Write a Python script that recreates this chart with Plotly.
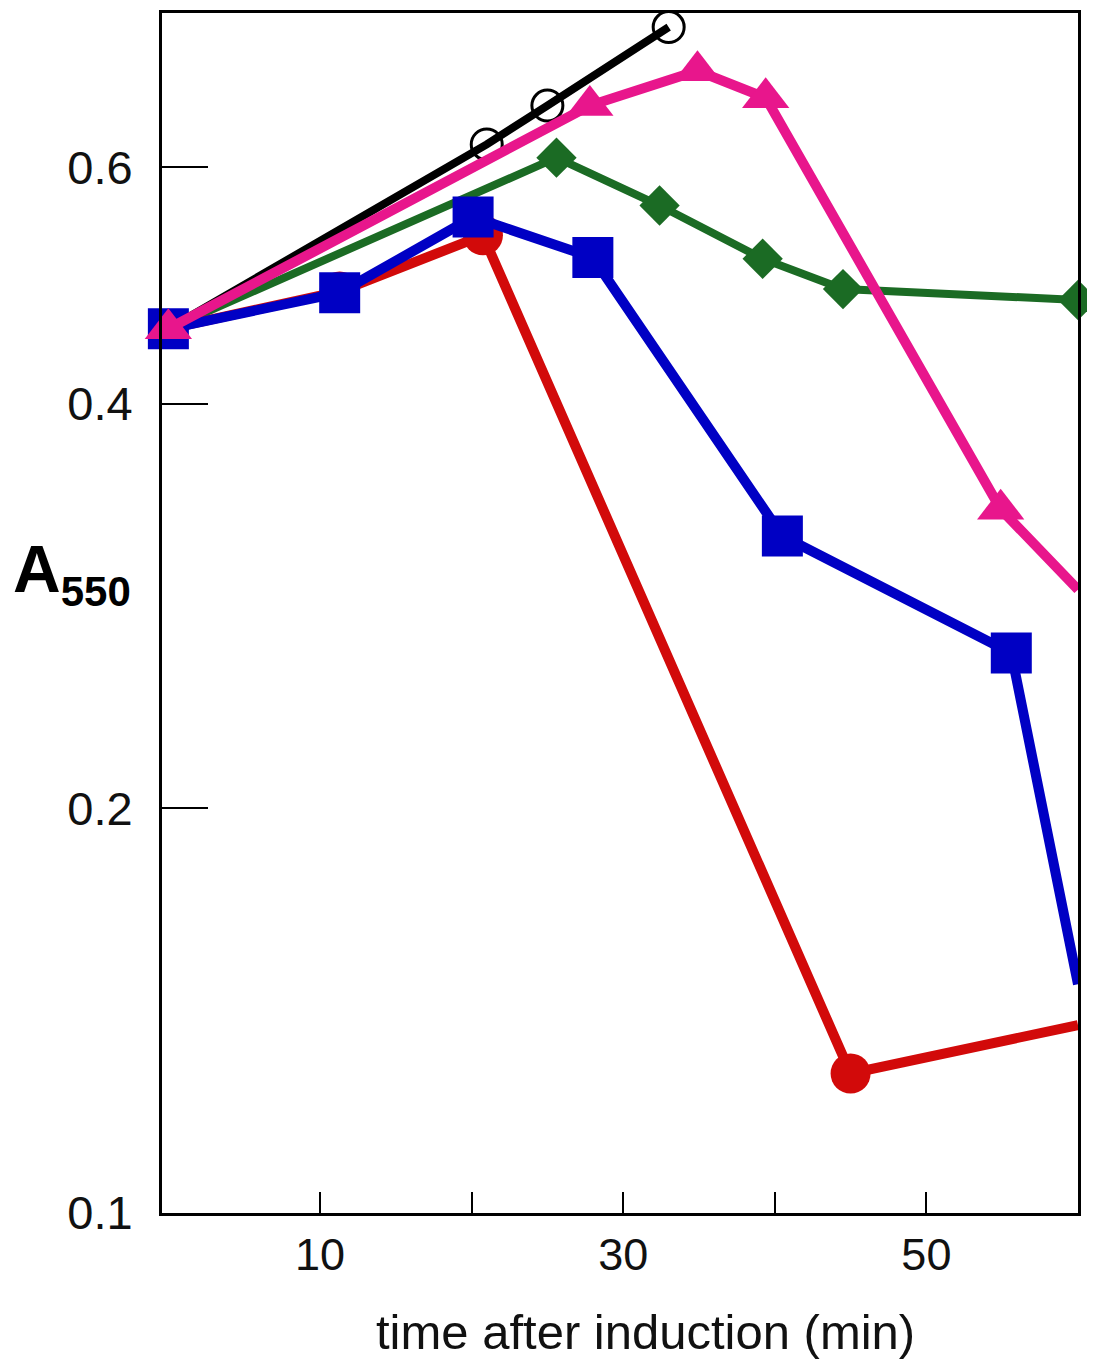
import plotly.graph_objects as go

# ---- data ----
black_x = [0, 21, 25, 33]
black_y = [0.455, 0.624, 0.667, 0.763]

pink_x = [0, 27.8, 34.9, 39.4, 54.9, 60]
pink_y = [0.455, 0.667, 0.708, 0.676, 0.334, 0.291]

green_x = [0, 25.6, 32.4, 39.2, 44.5, 60]
green_y = [0.455, 0.610, 0.562, 0.513, 0.487, 0.478]

blue_x = [0, 11.3, 20.1, 28.0, 40.5, 55.6, 60]
blue_y = [0.455, 0.484, 0.551, 0.514, 0.319, 0.261, 0.148]

red_x = [0, 11.3, 20.75, 45.0, 60]
red_y = [0.455, 0.485, 0.534, 0.127, 0.138]

x_label_vals = [10, 30, 50]
x_label_text = ["10", "30", "50"]
x_minor_vals = [20, 40]
y_tickvals = [0.1, 0.2, 0.4, 0.6]
y_ticktext = ["0.1", "0.2", "0.4", "0.6"]

FONT = "Liberation Sans, Arial, Helvetica, sans-serif"

def sizes(n, s, hide_last=False):
    arr = [s] * n
    if hide_last:
        arr[-1] = 0
    return arr

fig = go.Figure()

fig.add_trace(go.Scatter(
    x=green_x, y=green_y, mode="lines+markers",
    line=dict(color="#1b6b24", width=8),
    marker=dict(symbol="diamond", size=31, color="#1b6b24", opacity=1,
                line=dict(width=0)),
    cliponaxis=False, showlegend=False))

fig.add_trace(go.Scatter(
    x=black_x, y=black_y, mode="lines+markers",
    line=dict(color="black", width=8),
    marker=dict(symbol="circle-open", size=31, color="black", opacity=1,
                line=dict(width=3)),
    cliponaxis=False, showlegend=False))

fig.add_trace(go.Scatter(
    x=red_x, y=red_y, mode="lines+markers",
    line=dict(color="#d20a0a", width=10),
    marker=dict(symbol="circle", size=sizes(len(red_x), 40, True),
                color="#d20a0a", opacity=1, line=dict(width=0)),
    cliponaxis=False, showlegend=False))

fig.add_trace(go.Scatter(
    x=blue_x, y=blue_y, mode="lines+markers",
    line=dict(color="#0000c4", width=10),
    marker=dict(symbol="square", size=sizes(len(blue_x), 41, True),
                color="#0000c4", opacity=1, line=dict(width=0)),
    cliponaxis=False, showlegend=False))

fig.add_trace(go.Scatter(
    x=pink_x, y=pink_y, mode="lines+markers",
    line=dict(color="#e8168c", width=10),
    marker=dict(symbol="triangle-up", size=sizes(len(pink_x), 41, True),
                color="#e8168c", opacity=1, line=dict(width=0)),
    cliponaxis=False, showlegend=False))

xrange = [-0.42, 60]

fig.update_layout(
    width=1079, height=1353,
    margin=dict(l=154, r=9, t=2, b=148),
    paper_bgcolor="white", plot_bgcolor="white",
    font=dict(family=FONT, color="black"),
    xaxis=dict(
        range=xrange, showgrid=False, zeroline=False,
        showline=True, linecolor="black", linewidth=3, mirror=True,
        ticks="inside", ticklen=21, tickwidth=1.5, tickcolor="black",
        tickvals=x_label_vals, ticktext=x_label_text,
        minor=dict(tickvals=x_minor_vals, ticks="inside", ticklen=21,
                   tickwidth=1.5, tickcolor="black", showgrid=False),
        tickfont=dict(size=45, family=FONT, color="#111"),
    ),
    xaxis2=dict(
        range=xrange, overlaying="x", anchor="y", side="bottom",
        showgrid=False, zeroline=False, showline=False,
        ticks="outside", ticklen=7, tickwidth=1.5, tickcolor="black",
        tickvals=x_label_vals + x_minor_vals, showticklabels=False,
    ),
    yaxis=dict(
        type="log", range=[-1, -0.107], showgrid=False, zeroline=False,
        showline=True, linecolor="black", linewidth=3, mirror=True,
        ticks="inside", ticklen=46, tickwidth=1.5, tickcolor="black",
        tickvals=y_tickvals, ticktext=y_ticktext,
        tickfont=dict(size=47, family=FONT, color="#111"),
        ticklabelstandoff=17,
    ),
)

fig.add_annotation(
    text="<b>A<sub><span style='font-size:42px'>550</span></sub></b>",
    xref="paper", yref="paper",
    x=-0.165, y=0.533, xanchor="left", yanchor="middle",
    showarrow=False, font=dict(size=66, family=FONT, color="black"))

fig.add_annotation(
    text="time after induction (min)", xref="paper", yref="paper",
    x=0.528, y=-0.099, xanchor="center", yanchor="middle",
    showarrow=False, font=dict(size=49, family=FONT, color="#111"))

fig.write_html("out.html")
